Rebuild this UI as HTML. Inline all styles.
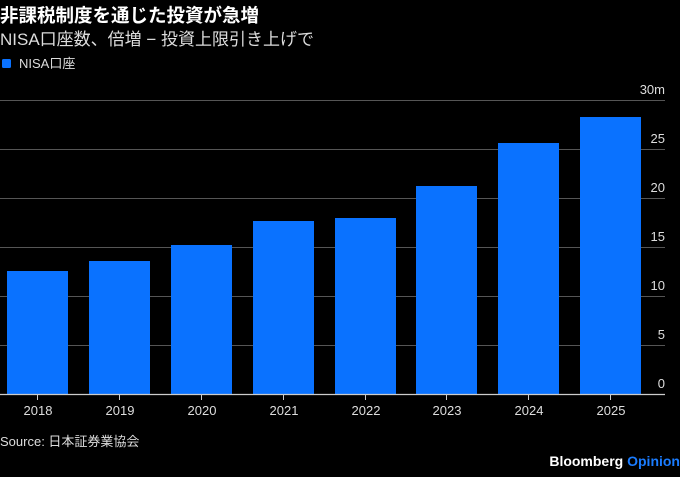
<!DOCTYPE html><html><head><style>body{margin:0;background:#000;width:680px;height:472px;overflow:hidden}</style></head><body>
<svg width="680" height="472" xmlns="http://www.w3.org/2000/svg" font-family="Liberation Sans, Noto Sans CJK JP, sans-serif">
<text x="0" y="22" fill="#fff" font-size="18.5" font-weight="bold">非課税制度を通じた投資が急増</text>
<text x="0" y="45" fill="#ddd" font-size="17">NISA口座数、倍増 − 投資上限引き上げで</text>
<rect x="2" y="59" width="9" height="9" rx="1.5" fill="#0a72ff"/>
<text x="19" y="68" fill="#ddd" font-size="13">NISA口座</text>
<g stroke="#555" stroke-width="1">
<line x1="0" x2="665" y1="100.5" y2="100.5"/><line x1="0" x2="665" y1="149.5" y2="149.5"/><line x1="0" x2="665" y1="198.5" y2="198.5"/><line x1="0" x2="665" y1="247.5" y2="247.5"/><line x1="0" x2="665" y1="296.5" y2="296.5"/><line x1="0" x2="665" y1="345.5" y2="345.5"/></g>
<g fill="#ddd" font-size="13" text-anchor="end">
<text x="665" y="94">30m</text><text x="665" y="143">25</text><text x="665" y="192">20</text><text x="665" y="241">15</text><text x="665" y="290">10</text><text x="665" y="339">5</text><text x="665" y="388">0</text></g>
<g fill="#0a72ff">
<rect x="7" y="271" width="61" height="123"/><rect x="89" y="261" width="61" height="133"/><rect x="171" y="245" width="61" height="149"/><rect x="253" y="221" width="61" height="173"/><rect x="335" y="218" width="61" height="176"/><rect x="416" y="186" width="61" height="208"/><rect x="498" y="143" width="61" height="251"/><rect x="580" y="117" width="61" height="277"/></g>
<line x1="0" x2="665" y1="394.5" y2="394.5" stroke="#ccc" stroke-width="1.2"/>
<g stroke="#ccc"><line x1="37.5" x2="37.5" y1="395" y2="400"/><line x1="119.5" x2="119.5" y1="395" y2="400"/><line x1="201.5" x2="201.5" y1="395" y2="400"/><line x1="283.5" x2="283.5" y1="395" y2="400"/><line x1="365.5" x2="365.5" y1="395" y2="400"/><line x1="446.5" x2="446.5" y1="395" y2="400"/><line x1="528.5" x2="528.5" y1="395" y2="400"/><line x1="610.5" x2="610.5" y1="395" y2="400"/></g>
<g fill="#ddd" font-size="13" text-anchor="middle">
<text x="38" y="415">2018</text><text x="120" y="415">2019</text><text x="202" y="415">2020</text><text x="284" y="415">2021</text><text x="366" y="415">2022</text><text x="447" y="415">2023</text><text x="529" y="415">2024</text><text x="611" y="415">2025</text></g>
<text x="0" y="446" fill="#ddd" font-size="13">Source: 日本証券業協会</text>
<text x="680" y="466" font-size="14" font-weight="bold" text-anchor="end" fill="#fff">Bloomberg <tspan fill="#1a7cff">Opinion</tspan></text>
</svg></body></html>
